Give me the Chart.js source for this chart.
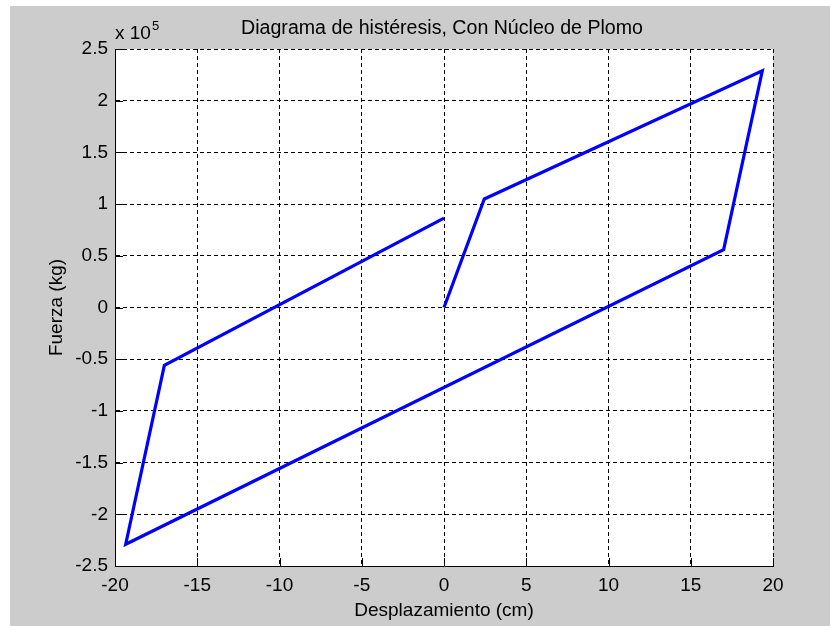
<!DOCTYPE html>
<html>
<head>
<meta charset="utf-8">
<script src="https://cdn.jsdelivr.net/npm/chart.js@4.4.1/dist/chart.umd.min.js"></script>
<style>
  html, body { margin: 0; padding: 0; background: #ffffff; }
  #wrap { width: 830px; height: 626px; position: relative; }
</style>
</head>
<body>
<div id="wrap"><canvas id="chart" width="830" height="626"></canvas></div>
<script>
// Hysteresis loop (x in cm, y in kg)
const desplazamiento = [0, 2.45, 19.35, 17.0, -19.35, -17.0, 0];
const fuerza         = [0, 105000, 229000, 56000, -229000, -56000, 86500];

const xTicks = [-20, -15, -10, -5, 0, 5, 10, 15, 20];
const yTicks = [-250000, -200000, -150000, -100000, -50000, 0, 50000, 100000, 150000, 200000, 250000];

const titulo   = 'Diagrama de histéresis, Con Núcleo de Plomo';
const labelX   = 'Desplazamiento (cm)';
const labelY   = 'Fuerza (kg)';
const FONT     = '"Liberation Sans", Arial, sans-serif';

// figure background, white axes, titles and the x 10^5 multiplier
const matlabFrame = {
  id: 'matlabFrame',
  beforeDraw(chart) {
    const { ctx, chartArea: a } = chart;
    ctx.save();
    ctx.fillStyle = '#cccccc';
    ctx.fillRect(10, 6, chart.width - 10, chart.height - 6);
    ctx.fillStyle = '#ffffff';
    ctx.fillRect(a.left, a.top, a.right - a.left, a.bottom - a.top);
    ctx.restore();
  },
  afterDraw(chart) {
    const { ctx, chartArea: a, scales } = chart;
    ctx.save();
    ctx.fillStyle = '#000';
    ctx.textBaseline = 'alphabetic';
    ctx.textAlign = 'center';

    // title
    ctx.font = `19.6px ${FONT}`;
    ctx.fillText(titulo, (a.left + a.right) / 2 - 2, 34);

    // x label
    ctx.font = `19px ${FONT}`;
    ctx.fillText(labelX, (a.left + a.right) / 2, 616);

    // y label
    ctx.save();
    ctx.translate(62, (a.top + a.bottom) / 2);
    ctx.rotate(-Math.PI / 2);
    ctx.fillText(labelY, 0, 0);
    ctx.restore();

    // exponent
    ctx.textAlign = 'left';
    ctx.fillText('x 10', a.left, 39);
    const w = ctx.measureText('x 10').width;
    ctx.font = `13px ${FONT}`;
    ctx.fillText('5', a.left + w + 1, 30);

    // inward tick marks on left and bottom axes
    ctx.strokeStyle = '#000';
    ctx.lineWidth = 1;
    ctx.beginPath();
    xTicks.forEach(v => {
      const px = Math.round(scales.x.getPixelForValue(v)) + 0.5;
      ctx.moveTo(px, a.bottom);
      ctx.lineTo(px, a.bottom - 8);
    });
    yTicks.forEach(v => {
      const py = Math.round(scales.y.getPixelForValue(v)) + 0.5;
      ctx.moveTo(a.left, py);
      ctx.lineTo(a.left + 8, py);
    });
    ctx.stroke();
    ctx.restore();
  }
};

new Chart(document.getElementById('chart'), {
  type: 'scatter',
  data: {
    datasets: [{
      data:        desplazamiento.map((x, i) => ({ x, y: fuerza[i] })),
      showLine:    true,
      borderColor: '#0000ff',
      borderWidth: 3.2,
      pointRadius: 0,
      tension:     0,
      fill:        false,
    }],
  },
  options: {
    responsive: false,
    animation:  false,
    devicePixelRatio: 1,
    layout: { padding: { left: 0, top: 49, right: 57, bottom: 0 } },
    plugins: { legend: { display: false }, tooltip: { enabled: false } },
    scales: {
      x: {
        type: 'linear',
        min: -20, max: 20,
        afterBuildTicks: s => { s.ticks = xTicks.map(value => ({ value })); },
        afterFit: s => { s.height = 60; },
        grid:   { color: '#000', lineWidth: 1, drawTicks: false },
        border: { display: true, color: '#000', width: 1, dash: [4, 3] },
        ticks:  { color: '#000', padding: 8, font: { family: FONT, size: 19 }, maxRotation: 0 },
      },
      y: {
        type: 'linear',
        min: -250000, max: 250000,
        afterBuildTicks: s => { s.ticks = yTicks.map(value => ({ value })); },
        afterFit: s => { s.width = 115; },
        grid:   { color: '#000', lineWidth: 1, drawTicks: false },
        border: { display: true, color: '#000', width: 1, dash: [4, 3] },
        ticks:  {
          color: '#000', padding: 7, font: { family: FONT, size: 19 },
          callback: v => String(v / 1e5),
        },
      },
    },
  },
  plugins: [matlabFrame],
});
</script>
</body>
</html>
